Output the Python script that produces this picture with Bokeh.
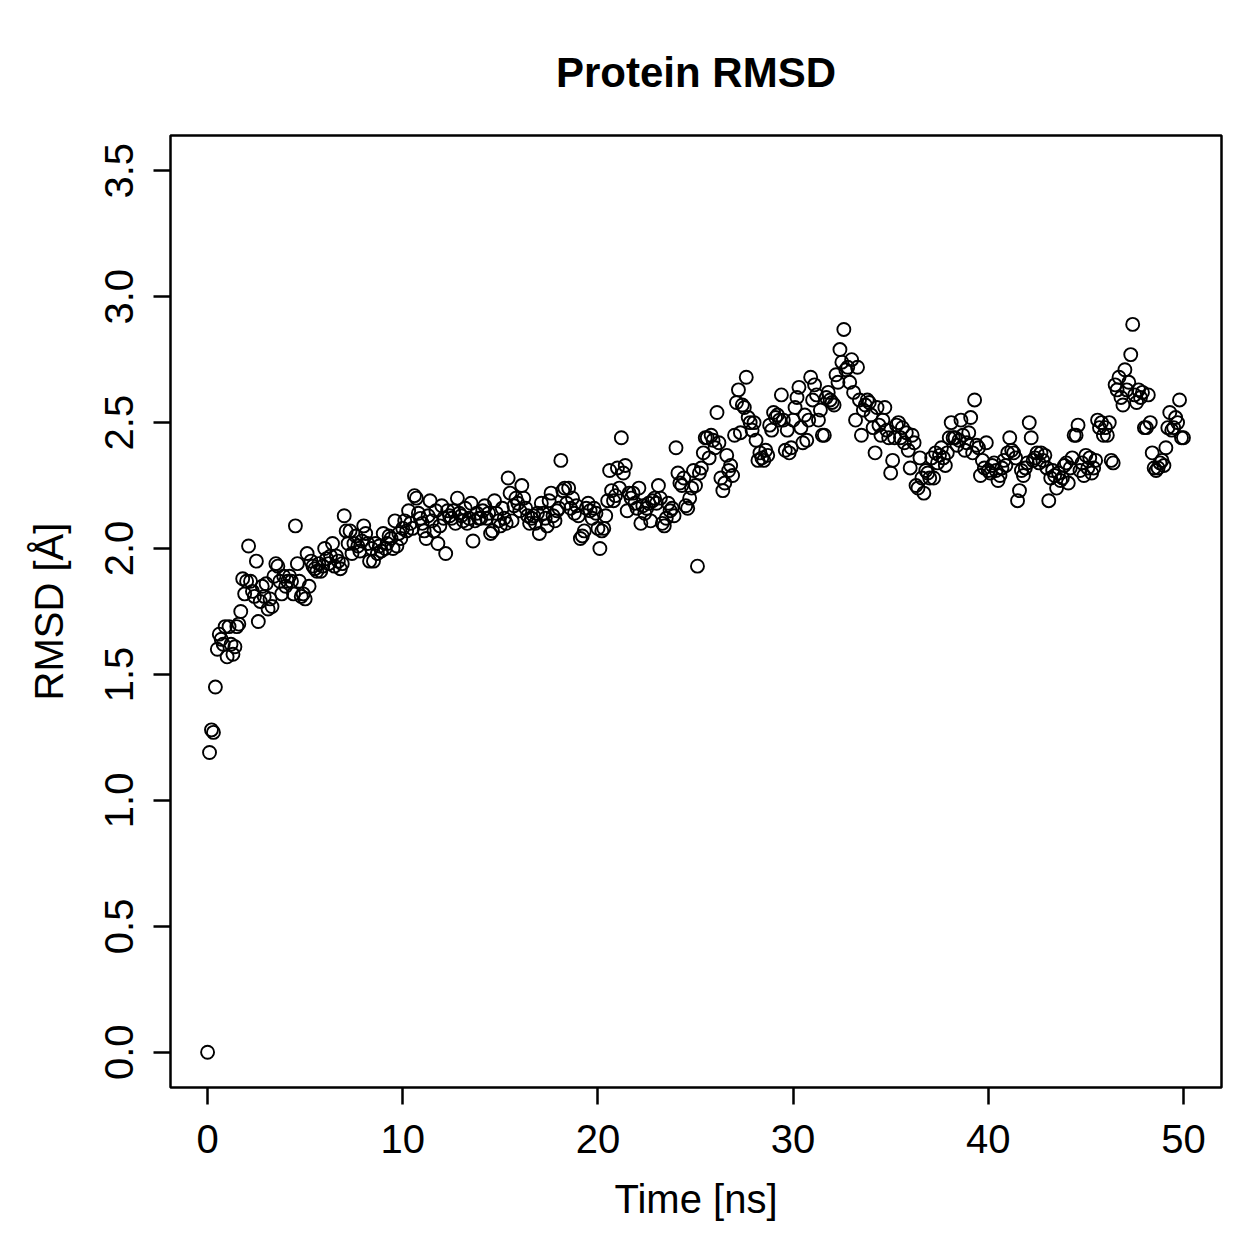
from bokeh.plotting import figure
from bokeh.models import Range1d, FixedTicker, PrintfTickFormatter
from bokeh.embed import file_html
from bokeh.resources import INLINE

# RMSD of the protein backbone, sampled every 0.1 ns (one row per ns)
rmsd_rows = [
    [0.00, 1.19, 1.28, 1.27, 1.45, 1.60, 1.66, 1.64, 1.62, 1.69],
    [1.57, 1.69, 1.62, 1.58, 1.61, 1.69, 1.70, 1.75, 1.88, 1.82],
    [1.87, 2.01, 1.87, 1.83, 1.81, 1.95, 1.71, 1.79, 1.85, 1.81],
    [1.86, 1.76, 1.80, 1.77, 1.89, 1.94, 1.93, 1.87, 1.82, 1.89],
    [1.85, 1.87, 1.89, 1.87, 1.82, 2.09, 1.94, 1.87, 1.81, 1.82],
    [1.80, 1.98, 1.85, 1.95, 1.93, 1.92, 1.91, 1.94, 1.91, 1.93],
    [2.00, 1.96, 1.94, 1.97, 2.02, 1.93, 1.97, 1.95, 1.92, 1.94],
    [2.13, 2.07, 2.02, 2.07, 1.98, 2.02, 2.05, 2.01, 1.99, 2.03],
    [2.09, 2.06, 2.02, 1.95, 2.00, 1.95, 2.02, 1.98, 2.01, 1.99],
    [2.06, 2.00, 2.02, 2.05, 2.04, 2.00, 2.11, 2.01, 2.06, 2.04],
    [2.08, 2.11, 2.07, 2.15, 2.10, 2.08, 2.21, 2.20, 2.14, 2.12],
    [2.10, 2.07, 2.04, 2.13, 2.19, 2.11, 2.07, 2.15, 2.02, 2.09],
    [2.17, 2.12, 1.98, 2.15, 2.13, 2.12, 2.15, 2.10, 2.20, 2.14],
    [2.13, 2.11, 2.16, 2.10, 2.12, 2.18, 2.03, 2.11, 2.14, 2.12],
    [2.12, 2.15, 2.17, 2.12, 2.14, 2.06, 2.07, 2.19, 2.14, 2.11],
    [2.09, 2.16, 2.12, 2.10, 2.28, 2.22, 2.11, 2.17, 2.20, 2.18],
    [2.15, 2.25, 2.20, 2.16, 2.13, 2.10, 2.12, 2.13, 2.10, 2.14],
    [2.06, 2.18, 2.14, 2.12, 2.09, 2.19, 2.22, 2.13, 2.11, 2.15],
    [2.16, 2.35, 2.23, 2.24, 2.18, 2.24, 2.16, 2.20, 2.14, 2.17],
    [2.13, 2.04, 2.05, 2.07, 2.16, 2.18, 2.15, 2.12, 2.16, 2.14],
    [2.08, 2.00, 2.07, 2.08, 2.13, 2.19, 2.31, 2.23, 2.19, 2.21],
    [2.32, 2.24, 2.44, 2.30, 2.33, 2.15, 2.22, 2.20, 2.22, 2.18],
    [2.16, 2.24, 2.10, 2.17, 2.14, 2.16, 2.18, 2.11, 2.19, 2.20],
    [2.18, 2.25, 2.20, 2.10, 2.09, 2.12, 2.18, 2.15, 2.16, 2.13],
    [2.40, 2.30, 2.26, 2.25, 2.28, 2.17, 2.16, 2.20, 2.24, 2.31],
    [2.25, 1.93, 2.30, 2.32, 2.38, 2.44, 2.44, 2.36, 2.45, 2.43],
    [2.40, 2.54, 2.42, 2.28, 2.23, 2.26, 2.37, 2.31, 2.33, 2.29],
    [2.45, 2.58, 2.63, 2.46, 2.57, 2.56, 2.68, 2.52, 2.50, 2.47],
    [2.50, 2.43, 2.35, 2.38, 2.36, 2.35, 2.39, 2.37, 2.49, 2.47],
    [2.54, 2.52, 2.53, 2.51, 2.61, 2.51, 2.39, 2.47, 2.38, 2.40],
    [2.51, 2.56, 2.60, 2.64, 2.48, 2.42, 2.53, 2.43, 2.51, 2.68],
    [2.59, 2.65, 2.61, 2.51, 2.55, 2.45, 2.45, 2.60, 2.62, 2.59],
    [2.58, 2.57, 2.69, 2.66, 2.79, 2.74, 2.87, 2.71, 2.72, 2.66],
    [2.75, 2.62, 2.51, 2.72, 2.59, 2.45, 2.55, 2.57, 2.59, 2.58],
    [2.53, 2.48, 2.38, 2.56, 2.49, 2.45, 2.51, 2.56, 2.47, 2.44],
    [2.30, 2.35, 2.44, 2.49, 2.50, 2.44, 2.48, 2.42, 2.46, 2.39],
    [2.32, 2.45, 2.42, 2.25, 2.24, 2.36, 2.28, 2.22, 2.31, 2.30],
    [2.28, 2.36, 2.28, 2.38, 2.34, 2.37, 2.40, 2.36, 2.33, 2.38],
    [2.44, 2.50, 2.44, 2.44, 2.41, 2.43, 2.51, 2.45, 2.39, 2.42],
    [2.46, 2.52, 2.38, 2.59, 2.41, 2.40, 2.29, 2.35, 2.32, 2.42],
    [2.31, 2.30, 2.33, 2.34, 2.31, 2.27, 2.29, 2.32, 2.35, 2.33],
    [2.38, 2.44, 2.39, 2.38, 2.36, 2.19, 2.23, 2.31, 2.29, 2.32],
    [2.34, 2.50, 2.44, 2.35, 2.36, 2.38, 2.34, 2.38, 2.35, 2.37],
    [2.32, 2.19, 2.28, 2.31, 2.29, 2.24, 2.30, 2.27, 2.28, 2.33],
    [2.34, 2.26, 2.32, 2.36, 2.45, 2.45, 2.49, 2.31, 2.34, 2.29],
    [2.37, 2.32, 2.36, 2.30, 2.32, 2.35, 2.51, 2.48, 2.50, 2.45],
    [2.48, 2.45, 2.50, 2.35, 2.34, 2.65, 2.63, 2.68, 2.60, 2.57],
    [2.71, 2.63, 2.66, 2.77, 2.89, 2.61, 2.58, 2.63, 2.60, 2.62],
    [2.48, 2.48, 2.61, 2.50, 2.38, 2.32, 2.31, 2.32, 2.34, 2.35],
    [2.33, 2.40, 2.48, 2.54, 2.47, 2.48, 2.52, 2.50, 2.59, 2.44],
    [2.44],
]

rmsd = [v for row in rmsd_rows for v in row]
time_ns = [round(i * 0.1, 1) for i in range(len(rmsd))]

x_ticks = [0, 10, 20, 30, 40, 50]
y_ticks = [0.0, 0.5, 1.0, 1.5, 2.0, 2.5, 3.0, 3.5]

FONT = "Liberation Sans"

p = figure(
    width=1259, height=1259,
    x_range=Range1d(-1.9, 51.95), y_range=Range1d(-0.14, 3.64),
    output_backend="svg", toolbar_location=None,
    min_border_left=170, min_border_right=38,
    min_border_top=135, min_border_bottom=172,
    title="Protein RMSD",
)

p.scatter(time_ns, rmsd, marker="circle", size=13, fill_color=None,
          line_color="black", line_width=1.9)

p.title.align = "center"
p.title.text_font = FONT
p.title.text_font_size = "42px"
p.title.text_font_style = "bold"
p.title.text_color = "black"
p.title.standoff = 79

p.xgrid.visible = False
p.ygrid.visible = False
p.background_fill_color = "white"
p.border_fill_color = "white"
p.outline_line_color = "black"
p.outline_line_width = 2.5
p.outline_line_alpha = 1.0

for ax in (p.xaxis[0], p.yaxis[0]):
    ax.axis_line_color = None
    ax.major_tick_line_color = "black"
    ax.major_tick_line_width = 2.5
    ax.major_tick_out = 17
    ax.major_tick_in = 0
    ax.minor_tick_line_color = None
    ax.major_label_text_font = FONT
    ax.major_label_text_font_size = "40px"
    ax.major_label_text_color = "black"
    ax.axis_label_text_font = FONT
    ax.axis_label_text_font_size = "40px"
    ax.axis_label_text_font_style = "normal"
    ax.axis_label_text_color = "black"

p.xaxis.ticker = FixedTicker(ticks=x_ticks)
p.yaxis.ticker = FixedTicker(ticks=y_ticks)
p.yaxis.formatter = PrintfTickFormatter(format="%.1f")
p.yaxis.major_label_orientation = "vertical"

p.xaxis.axis_label = "Time [ns]"
p.yaxis.axis_label = "RMSD [Å]"
p.xaxis.major_label_standoff = 20
p.yaxis.major_label_standoff = 20
p.xaxis.axis_label_standoff = 21
p.yaxis.axis_label_standoff = 32

open("out.html", "w").write(file_html(p, INLINE))
